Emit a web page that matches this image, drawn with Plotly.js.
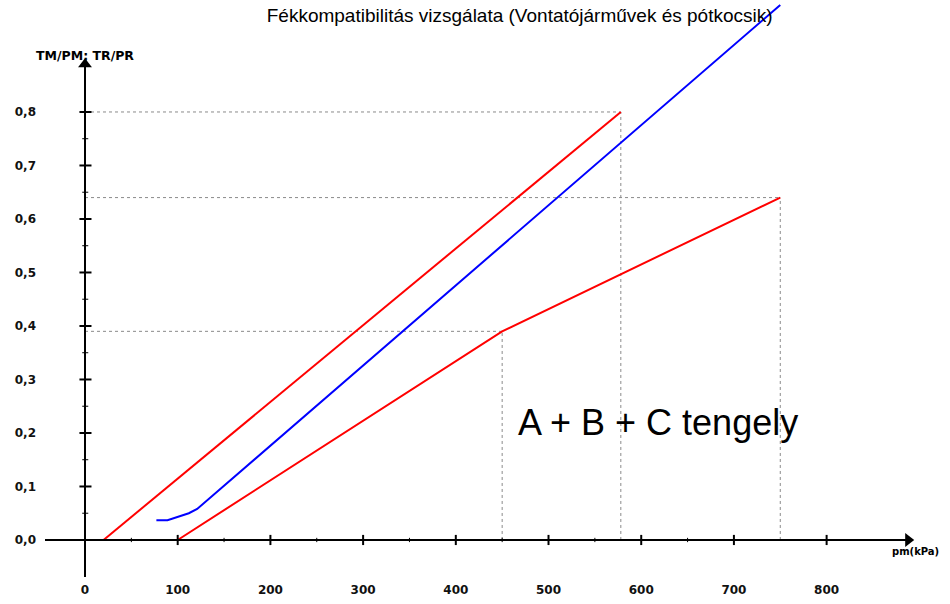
<!DOCTYPE html>
<html>
<head>
<meta charset="utf-8">
<script src="https://cdn.plot.ly/plotly-3.0.1.min.js"></script>
<style>html,body{margin:0;padding:0;background:#fff;}#chart{width:950px;height:604px;}</style>
</head>
<body>
<div id="chart"></div>
<script>
// ---- data ----
const upperX = [20, 578];
const upperY = [0, 0.8];
const lowerX = [100, 450, 750];
const lowerY = [0, 0.39, 0.64];
const blueX = [77, 89, 112, 121, 750];
const blueY = [0.037, 0.037, 0.050, 0.058, 1.0];
const guideX = [450, 578, 750];
const guideY = [0.39, 0.8, 0.64];
const xTickVals = [0, 100, 200, 300, 400, 500, 600, 700, 800];
const xTickText = ['0', '100', '200', '300', '400', '500', '600', '700', '800'];
const yTickVals = [0, 0.1, 0.2, 0.3, 0.4, 0.5, 0.6, 0.7, 0.8];
const yTickText = ['0,0', '0,1', '0,2', '0,3', '0,4', '0,5', '0,6', '0,7', '0,8'];
const xMinor = [50, 150, 250, 350, 450, 550, 650];
const yMinor = [0.05, 0.15, 0.25, 0.35, 0.45, 0.55, 0.65, 0.75];
const titleText = 'Fékkompatibilitás vizsgálata (Vontatójárművek és pótkocsik)';
const yAxisLabel = 'TM/PM; TR/PR';
const xAxisLabel = 'pm(kPa)';
const boxLabel = 'A + B + C tengely';

// ---- layout geometry ----
const xRange = [-43.15, 892.1];
const yRange = [-0.0692, 1.0093];
const shapes = [];
// dashed guides
guideX.forEach((gx, i) => {
  const gy = guideY[i];
  shapes.push({type: 'line', xref: 'x', yref: 'y', x0: 0, x1: gx, y0: gy, y1: gy,
    line: {color: '#8a8a8a', width: 1, dash: '3px,3px'}, layer: 'below'});
  shapes.push({type: 'line', xref: 'x', yref: 'y', x0: gx, x1: gx, y0: 0, y1: gy,
    line: {color: '#8a8a8a', width: 1, dash: '3px,3px'}, layer: 'below'});
});
// axes
shapes.push({type: 'line', xref: 'x', yref: 'y', x0: xRange[0], x1: 886, y0: 0, y1: 0,
  line: {color: '#000', width: 2}});
shapes.push({type: 'line', xref: 'x', yref: 'y', x0: 0, x1: 0, y0: yRange[0], y1: 0.885,
  line: {color: '#000', width: 2}});
// ticks
xTickVals.slice(1).forEach(v => shapes.push({type: 'line', xref: 'x', yref: 'y', x0: v, x1: v,
  y0: -0.0095, y1: 0.0095, line: {color: '#000', width: 2}}));
xMinor.forEach(v => shapes.push({type: 'line', xref: 'x', yref: 'y', x0: v, x1: v,
  y0: -0.004, y1: 0.004, line: {color: '#000', width: 1}}));
yTickVals.slice(1).forEach(v => shapes.push({type: 'line', xref: 'x', yref: 'y', x0: -6, x1: 7,
  y0: v, y1: v, line: {color: '#000', width: 2}}));
yMinor.forEach(v => shapes.push({type: 'line', xref: 'x', yref: 'y', x0: -3, x1: 3.5,
  y0: v, y1: v, line: {color: '#000', width: 1}}));

const traces = [
  {x: upperX, y: upperY, mode: 'lines', line: {color: '#ff0000', width: 2}, hoverinfo: 'skip'},
  {x: lowerX, y: lowerY, mode: 'lines', line: {color: '#ff0000', width: 2}, hoverinfo: 'skip'},
  {x: blueX, y: blueY, mode: 'lines', line: {color: '#0000ff', width: 2}, hoverinfo: 'skip'},
  {x: [888, 0], y: [0, 0.889], mode: 'markers', cliponaxis: false, hoverinfo: 'skip',
    marker: {symbol: ['triangle-right', 'triangle-up'], size: 12, color: '#000', line: {width: 0}}}
];

const layout = {
  width: 950, height: 604,
  paper_bgcolor: '#fff', plot_bgcolor: '#fff',
  showlegend: false,
  margin: {l: 45, r: 38, t: 0, b: 27},
  title: {text: titleText, xref: 'container', yref: 'container', x: 0.547, y: 0.975,
    xanchor: 'center', yanchor: 'middle',
    font: {family: 'Liberation Sans, Arial, sans-serif', size: 19, color: '#000'}},
  xaxis: {range: xRange, showgrid: false, zeroline: false, showline: false, ticks: '',
    tickmode: 'array', tickvals: xTickVals, ticktext: xTickText, ticklabelstandoff: 4,
    tickfont: {family: 'DejaVu Sans', size: 12, weight: 'bold', color: '#111'},
    fixedrange: true, automargin: false},
  yaxis: {range: yRange, showgrid: false, zeroline: false, showline: false, ticks: '',
    tickmode: 'array', tickvals: yTickVals, ticktext: yTickText, ticklabelstandoff: 8,
    tickfont: {family: 'DejaVu Sans', size: 12, weight: 'bold', color: '#111'},
    fixedrange: true, automargin: false},
  shapes: shapes,
  annotations: [
    {text: yAxisLabel, x: 0, y: 0.9065, xref: 'x', yref: 'y', showarrow: false,
      xanchor: 'center', yanchor: 'middle',
      font: {family: 'DejaVu Sans', size: 12.5, weight: 'bold', color: '#000'}},
    {text: xAxisLabel, x: 1.0046, y: 0.045, xref: 'paper', yref: 'paper', showarrow: false,
      xanchor: 'center', yanchor: 'middle',
      font: {family: 'DejaVu Sans', size: 10, weight: 'bold', color: '#000'}},
    {text: boxLabel, x: 617.6, y: 0.2187, xref: 'x', yref: 'y', showarrow: false,
      xanchor: 'center', yanchor: 'middle',
      font: {family: 'Liberation Sans, Arial, sans-serif', size: 36, color: '#000'}}
  ]
};

Plotly.newPlot('chart', traces, layout, {staticPlot: true, displayModeBar: false});
</script>
</body>
</html>
